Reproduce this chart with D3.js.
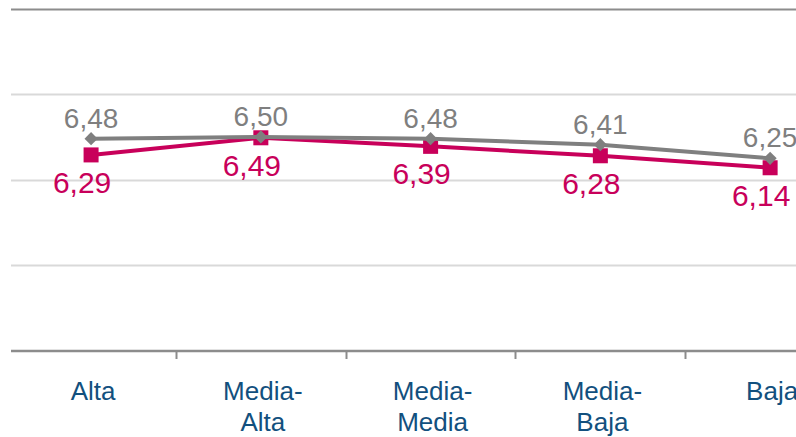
<!DOCTYPE html>
<html>
<head>
<meta charset="utf-8">
<script src="https://cdn.jsdelivr.net/npm/d3@7"></script>
<style>
  body { margin: 0; background: #fff; }
  svg { display: block; font-family: "Liberation Sans", Arial, sans-serif; }
</style>
</head>
<body>
<div id="chart"></div>
<script>
// categories and series
var categories = ["Alta", "Media-Alta", "Media-Media", "Media-Baja", "Baja"];
var serieGris = [6.48, 6.50, 6.48, 6.41, 6.25];
var serieRoja = [6.29, 6.49, 6.39, 6.28, 6.14];
var yTicks = [5, 6, 7, 8];

var width = 796, height = 437;
var svg = d3.select("#chart").append("svg")
  .attr("width", width)
  .attr("height", height);

// scales
var x = d3.scaleBand().domain(categories).range([6.2, 855]).padding(0);
var y = d3.scaleLinear().domain([4, 8]).range([351, 8.5]);
var cx = function(c) { return x(c) + x.bandwidth() / 2; };

// gridlines
svg.append("g").selectAll("line")
  .data(yTicks)
  .enter().append("line")
    .attr("x1", 11).attr("x2", width)
    .attr("y1", function(d) { return Math.round(y(d)) + 0.5; })
    .attr("y2", function(d) { return Math.round(y(d)) + 0.5; })
    .attr("stroke", function(d) { return d === 8 ? "#8c8c8c" : "#d9d9d9"; })
    .attr("stroke-width", 2);

// x axis
var xAxis = svg.append("g")
  .attr("transform", "translate(0," + y(4) + ")");
xAxis.append("line")
  .attr("x1", 11).attr("x2", width)
  .attr("stroke", "#8c8c8c").attr("stroke-width", 2.5);
xAxis.selectAll(".tick")
  .data(categories.slice(1))
  .enter().append("line")
    .attr("x1", function(d) { return Math.round(x(d)) + 0.5; })
    .attr("x2", function(d) { return Math.round(x(d)) + 0.5; })
    .attr("y1", 0).attr("y2", 8)
    .attr("stroke", "#8c8c8c").attr("stroke-width", 2);

// category labels (split after hyphen)
var lbl = xAxis.selectAll("text.cat")
  .data(categories)
  .enter().append("text")
    .attr("class", "cat")
    .attr("text-anchor", "middle")
    .attr("font-size", 26)
    .attr("fill", "#12507e")
    .attr("transform", function(d) { return "translate(" + (cx(d) + 2) + ",49)"; });
lbl.each(function(d) {
  var parts = d.indexOf("-") > 0 ? [d.split("-")[0] + "-", d.split("-")[1]] : [d];
  var t = d3.select(this);
  parts.forEach(function(p, i) {
    t.append("tspan").attr("x", 0).attr("y", i * 31).text(p);
  });
});

function fmt(v) { return v.toFixed(2).replace(".", ","); }

var line = d3.line()
  .x(function(d, i) { return cx(categories[i]); })
  .y(function(d) { return y(d); });

// red series
svg.append("path")
  .datum(serieRoja)
  .attr("d", line)
  .attr("fill", "none")
  .attr("stroke", "#c8005a")
  .attr("stroke-width", 4);
svg.selectAll("rect.roja")
  .data(serieRoja)
  .enter().append("rect")
    .attr("class", "roja")
    .attr("x", function(d, i) { return cx(categories[i]) - 7.5; })
    .attr("y", function(d) { return y(d) - 7.5; })
    .attr("width", 15).attr("height", 15)
    .attr("fill", "#c8005a");

// gray series
svg.append("path")
  .datum(serieGris)
  .attr("d", line)
  .attr("fill", "none")
  .attr("stroke", "#7f7f7f")
  .attr("stroke-width", 4);
svg.selectAll("path.gris")
  .data(serieGris)
  .enter().append("path")
    .attr("class", "gris")
    .attr("d", d3.symbol().type(d3.symbolDiamond2).size(110))
    .attr("transform", function(d, i) { return "translate(" + cx(categories[i]) + "," + y(d) + ")"; })
    .attr("fill", "#7f7f7f");

// value labels
svg.selectAll("text.vgris")
  .data(serieGris)
  .enter().append("text")
    .attr("class", "vgris")
    .attr("x", function(d, i) { return cx(categories[i]); })
    .attr("y", function(d) { return y(d) - 11; })
    .attr("text-anchor", "middle")
    .attr("font-size", 28)
    .attr("fill", "#7f7f7f")
    .text(fmt);

svg.selectAll("text.vroja")
  .data(serieRoja)
  .enter().append("text")
    .attr("class", "vroja")
    .attr("x", function(d, i) { return cx(categories[i]) - 9; })
    .attr("y", function(d) { return y(d) + 38; })
    .attr("text-anchor", "middle")
    .attr("font-size", 30)
    .attr("fill", "#c8005a")
    .text(fmt);
</script>
</body>
</html>
